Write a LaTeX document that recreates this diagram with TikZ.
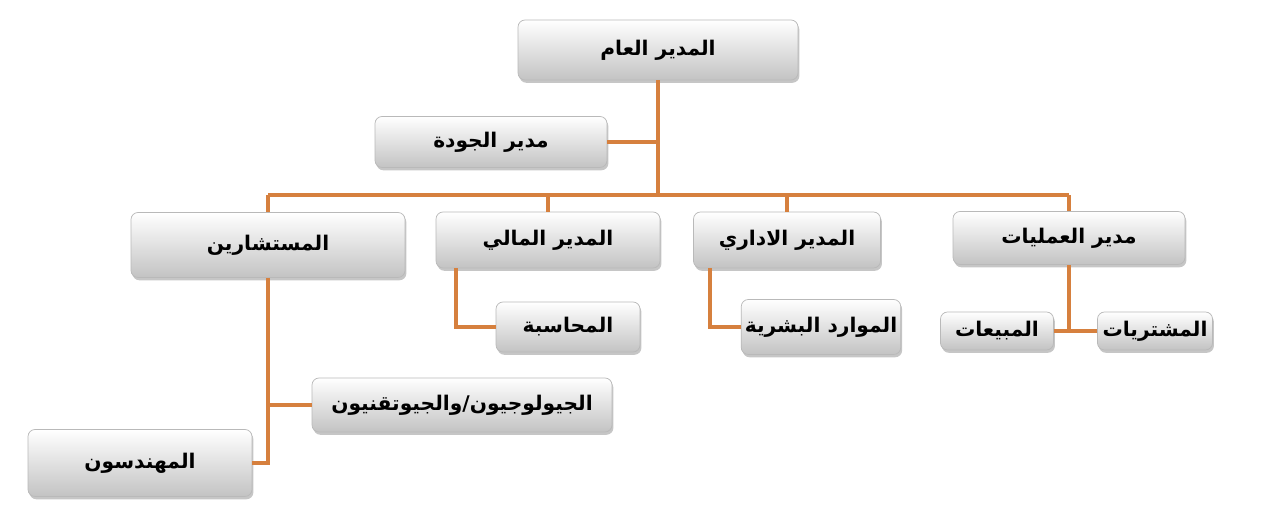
\documentclass[tikz,border=0pt]{standalone}
\usepackage{fontspec}
\usepackage{tikz}
\usetikzlibrary{shapes,positioning,shadows}
\usepackage{xcolor}
\TeXXeTstate=1
\newfontfamily\arabicfont[Script=Arabic]{DejaVu Sans}
\definecolor{orgline}{RGB}{214,128,62}
\definecolor{boxedge}{RGB}{185,185,185}
\definecolor{boxshade}{RGB}{195,195,195}
\tikzstyle{link} = [line width=2.2pt,color=orgline]
\newcommand{\ar}[1]{\arabicfont\bfseries\beginR #1\endR}

\begin{document}
\begin{tikzpicture}[
    unit/.style={rectangle, rounded corners=4pt, draw=boxedge, top color=white, bottom color=boxshade, drop shadow={shadow xshift=0.8pt, shadow yshift=-1.6pt, opacity=0.45}, font=\fontsize{11.5}{14}\selectfont, inner sep=2pt}]
\useasboundingbox (0,0) rectangle (25.3,10.62);

% Top
\node[unit, minimum width=5.6cm, minimum height=1.2cm] (gm) at (13.16,9.62) {\ar{المدير العام}};
\node[unit, minimum width=4.64cm, minimum height=1.02cm] (quality) at (9.82,7.78) {\ar{مدير الجودة}};

% Main branches
\node[unit, minimum width=5.48cm, minimum height=1.3cm] (consult) at (5.36,5.72) {\ar{المستشارين}};
\node[unit, minimum width=4.48cm, minimum height=1.12cm] (finance) at (10.96,5.82) {\ar{المدير المالي}};
\node[unit, minimum width=3.74cm, minimum height=1.12cm] (admin) at (15.74,5.82) {\ar{المدير الاداري}};
\node[unit, minimum width=4.64cm, minimum height=1.06cm] (ops) at (21.38,5.86) {\ar{مدير العمليات}};

% Sub units
\node[unit, minimum width=2.88cm, minimum height=1.0cm] (accounting) at (11.36,4.08) {\ar{المحاسبة}};
\node[unit, minimum width=3.08cm, minimum height=1.1cm] (hr) at (16.42,4.08) {\ar{الموارد البشرية}};
\node[unit, minimum width=2.26cm, minimum height=0.76cm] (sales) at (19.94,4.0) {\ar{المبيعات}};
\node[unit, minimum width=2.3cm, minimum height=0.76cm] (purchases) at (23.1,4.0) {\ar{المشتريات}};

% Consultants sub
\node[unit, minimum width=6.0cm, minimum height=1.08cm] (geo) at (9.24,2.52) {\ar{الجيولوجيون/والجيوتقنيون}};
\node[unit, minimum width=4.48cm, minimum height=1.34cm] (eng) at (2.8,1.36) {\ar{المهندسون}};

% Connections
\coordinate (bus) at (13.1,6.72);
\begin{scope}[on background layer/.try]
\draw[link] (gm.south) -- (gm.south |- bus);
\draw[link] (quality.east) -- (gm.south |- quality.east);
\draw[link] (consult.north |- bus) -- (ops.north |- bus);
\draw[link] (consult.north) -- (consult.north |- bus);
\draw[link] (finance.north) -- (finance.north |- bus);
\draw[link] (admin.north) -- (admin.north |- bus);
\draw[link] (ops.north) -- (ops.north |- bus);

\draw[link] ([xshift=0.4cm]finance.south west) |- (accounting.west);
\draw[link] ([xshift=0.34cm]admin.south west) |- (hr.west);
\draw[link] (ops.south) -- (ops.south |- sales.east);
\draw[link] (sales.east) -- (purchases.west);

\draw[link] (consult.south) |- (eng.east);
\draw[link] (consult.south |- geo.west) -- (geo.west);
\end{scope}
\end{tikzpicture}
\end{document}
